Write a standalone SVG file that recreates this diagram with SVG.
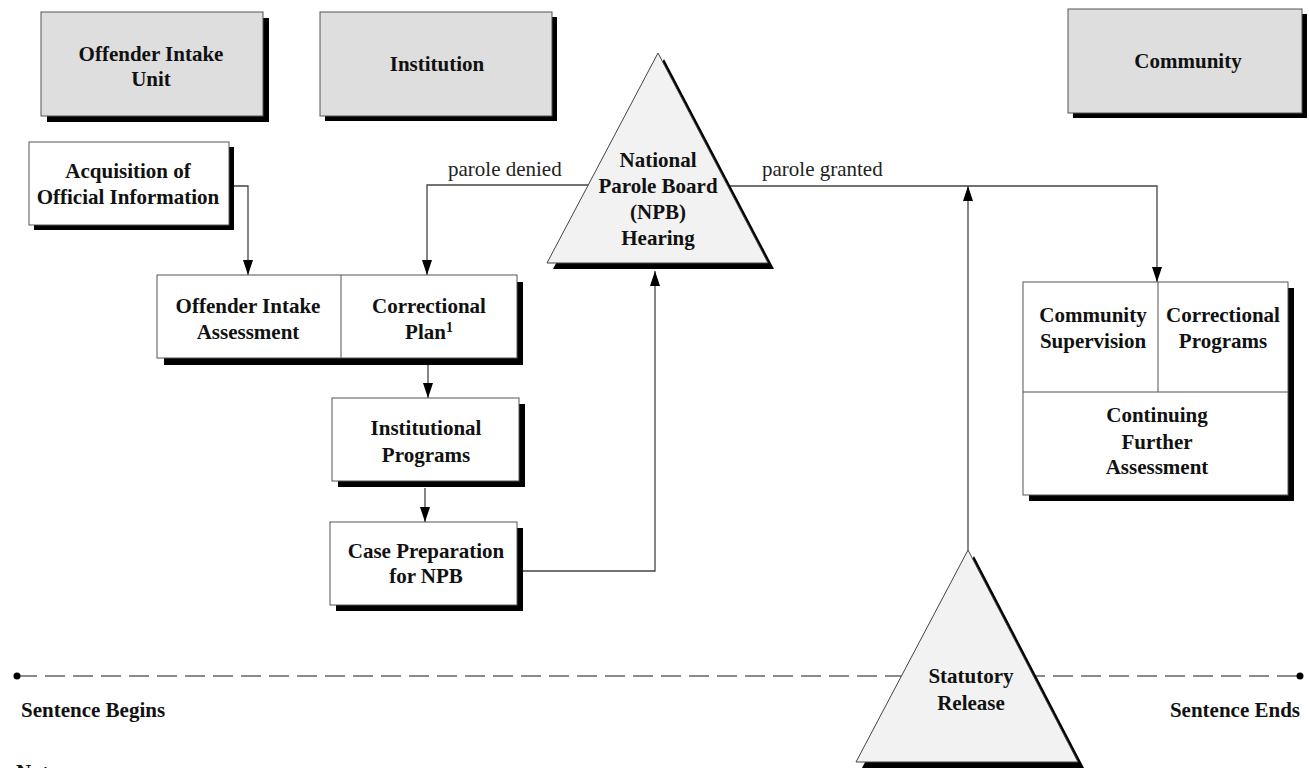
<svg xmlns="http://www.w3.org/2000/svg" width="1309" height="768" viewBox="0 0 1309 768">
<style>
.lbl{font-family:"Liberation Serif","Times New Roman",serif;font-weight:bold;font-size:21px;fill:#111;text-anchor:middle}
.edge{font-family:"Liberation Serif","Times New Roman",serif;font-size:21px;fill:#222}
.hdr{fill:#dedede;stroke:#555;stroke-width:1}
.box{fill:#fff;stroke:#555;stroke-width:1}
.tri{fill:#f2f2f2;stroke:#444;stroke-width:1}
.sh{fill:#000}
.conn{fill:none;stroke:#444;stroke-width:1.3}
</style>
<defs>
<marker id="arr" viewBox="0 0 15 10" refX="15" refY="5" markerWidth="15" markerHeight="10" markerUnits="userSpaceOnUse" orient="auto">
<path d="M0,0 L15,5 L0,10 z" fill="#000"/>
</marker>
</defs>
<rect width="1309" height="768" fill="#fff"/>

<!-- timeline -->
<g id="timeline">
<line x1="17" y1="676" x2="1300" y2="676" stroke="#666" stroke-width="1.6" stroke-dasharray="20 8"/>
<circle cx="17" cy="676" r="3.5" fill="#000"/>
<circle cx="1300" cy="676" r="3.5" fill="#000"/>
<text class="lbl" x="21" y="717" style="text-anchor:start">Sentence Begins</text>
<text class="lbl" x="1300" y="717" style="text-anchor:end">Sentence Ends</text>
<text class="lbl" x="16" y="779" style="text-anchor:start">Notes</text>
</g>

<g id="connectors">
<polyline class="conn" points="229,186 248,186 248,275" marker-end="url(#arr)"/>
<polyline class="conn" points="588,185 427,185 427,275" marker-end="url(#arr)"/>
<polyline class="conn" points="728,186 1157,186 1157,282" marker-end="url(#arr)"/>
<line class="conn" x1="968" y1="550" x2="968" y2="186" marker-end="url(#arr)"/>
<line class="conn" x1="428" y1="365" x2="428" y2="398" marker-end="url(#arr)"/>
<line class="conn" x1="425" y1="488" x2="425" y2="522" marker-end="url(#arr)"/>
<polyline class="conn" points="517,571 655,571 655,271" marker-end="url(#arr)"/>
<text class="edge" x="448" y="176">parole denied</text>
<text class="edge" x="762" y="176">parole granted</text>
</g>

<g id="offender-intake-unit">
<rect class="sh" x="47" y="18" width="222" height="104"/>
<rect class="hdr" x="41" y="12" width="222" height="104"/>
<text class="lbl" x="151" y="61">Offender Intake</text>
<text class="lbl" x="151" y="86">Unit</text>
</g>

<g id="institution">
<rect class="sh" x="325" y="17" width="232" height="104"/>
<rect class="hdr" x="320" y="12" width="232" height="104"/>
<text class="lbl" x="437" y="71">Institution</text>
</g>

<g id="community">
<rect class="sh" x="1073" y="14" width="234" height="104"/>
<rect class="hdr" x="1068" y="9" width="234" height="104"/>
<text class="lbl" x="1188" y="68">Community</text>
</g>

<g id="acquisition">
<rect class="sh" x="34" y="147" width="200" height="83"/>
<rect class="box" x="29" y="142" width="200" height="83"/>
<text class="lbl" x="128" y="178">Acquisition of</text>
<text class="lbl" x="128" y="204">Official Information</text>
</g>

<g id="intake-assessment-plan">
<rect class="sh" x="164" y="282" width="359" height="83"/>
<rect class="box" x="157" y="275" width="360" height="83"/>
<line x1="341" y1="275" x2="341" y2="358" stroke="#555" stroke-width="1"/>
<text class="lbl" x="248" y="313">Offender Intake</text>
<text class="lbl" x="248" y="339">Assessment</text>
<text class="lbl" x="429" y="313">Correctional</text>
<text class="lbl" x="429" y="339">Plan<tspan font-size="14" dy="-7">1</tspan></text>
</g>

<g id="institutional-programs">
<rect class="sh" x="338" y="404" width="187" height="83"/>
<rect class="box" x="332" y="398" width="187" height="83"/>
<text class="lbl" x="426" y="435">Institutional</text>
<text class="lbl" x="426" y="462">Programs</text>
</g>

<g id="case-preparation">
<rect class="sh" x="336" y="528" width="187" height="83"/>
<rect class="box" x="330" y="522" width="187" height="83"/>
<text class="lbl" x="426" y="558">Case Preparation</text>
<text class="lbl" x="426" y="583">for NPB</text>
</g>

<g id="npb-hearing">
<polygon class="sh" points="664,59 553,269 774,269"/>
<polygon class="tri" points="658,53 547,263 768,263"/>
<text class="lbl" x="658" y="167">National</text>
<text class="lbl" x="658" y="193">Parole Board</text>
<text class="lbl" x="658" y="219">(NPB)</text>
<text class="lbl" x="658" y="245">Hearing</text>
</g>

<g id="community-programs">
<rect class="sh" x="1029" y="288" width="265" height="213"/>
<rect class="box" x="1023" y="282" width="265" height="213"/>
<line x1="1158" y1="282" x2="1158" y2="392" stroke="#555" stroke-width="1"/>
<line x1="1023" y1="392" x2="1288" y2="392" stroke="#555" stroke-width="1"/>
<text class="lbl" x="1093" y="322">Community</text>
<text class="lbl" x="1093" y="348">Supervision</text>
<text class="lbl" x="1223" y="322">Correctional</text>
<text class="lbl" x="1223" y="348">Programs</text>
<text class="lbl" x="1157" y="422">Continuing</text>
<text class="lbl" x="1157" y="449">Further</text>
<text class="lbl" x="1157" y="474">Assessment</text>
</g>

<g id="statutory-release">
<polygon class="sh" points="974,556 862,768 1084,768"/>
<polygon class="tri" points="968,550 856,762 1078,762"/>
<text class="lbl" x="971" y="683">Statutory</text>
<text class="lbl" x="971" y="710">Release</text>
</g>
</svg>
